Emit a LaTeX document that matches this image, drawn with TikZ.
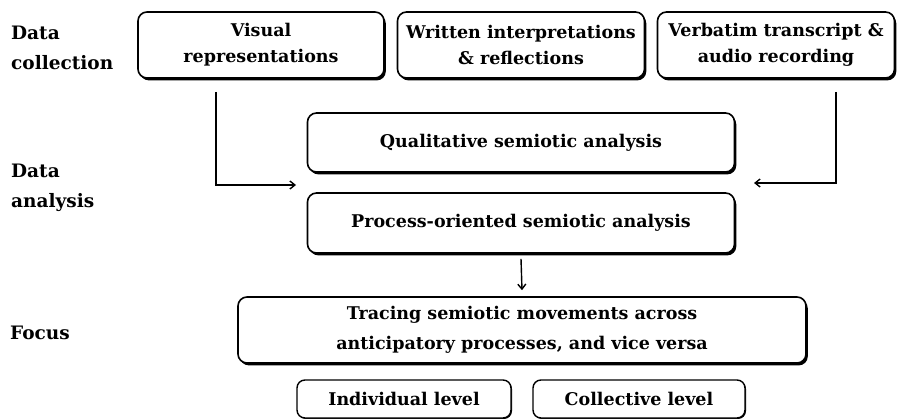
\documentclass[tikz,border=0pt]{standalone}
\usepackage{fontspec}
\setmainfont{DejaVu Serif}
\usetikzlibrary{arrows.meta,shadows}
\begin{document}
\begin{tikzpicture}[x=1pt,y=-1pt,
  every node/.style={font=\bfseries\fontsize{17.5}{26}\selectfont, align=center, inner sep=0pt},
  bigbox/.style={draw, line width=1.6pt, rounded corners=9pt, fill=white,
    drop shadow={shadow xshift=1.8pt, shadow yshift=-2.4pt, fill=black, opacity=1}},
  smallbox/.style={draw, line width=1.4pt, rounded corners=8pt, fill=white,
    drop shadow={shadow xshift=1pt, shadow yshift=-1pt, fill=black, opacity=1}},
  lbl/.style={anchor=west, align=left, font=\bfseries\fontsize{18.5}{30}\selectfont},
  conn/.style={line width=1.4pt, -{Straight Barb[length=5pt,width=8pt,line width=1.4pt]}}
]
\useasboundingbox (0,0) rectangle (899,419);
\fill[white] (0,0) rectangle (899,419);

% labels
\node[lbl] (lcol) at (11,48) {Data\\collection};
\node[lbl] (lana) at (11,188) {Data\\analysis};
\node[lbl] (lfoc) at (10,333) {Focus};

% top row
\node[bigbox, minimum width=246, minimum height=66] (vis) at (261,45) {Visual\\representations};
\node[bigbox, minimum width=247, minimum height=66] (wri) at (521,45) {Written interpretations\\\& reflections};
\node[bigbox, minimum width=237, minimum height=66] (ver) at (776,45) {Verbatim transcript \&\\audio recording};

% analysis
\node[bigbox, minimum width=427, minimum height=59] (qual) at (521,142.5) {Qualitative semiotic analysis};
\node[bigbox, minimum width=427, minimum height=60] (proc) at (521,223) {Process-oriented semiotic analysis};

% focus
\node[bigbox, minimum width=568, minimum height=66, font=\bfseries\fontsize{17.5}{30}\selectfont] (foc) at (522,330) {Tracing semiotic movements across\\anticipatory processes, and vice versa};

\node[smallbox, minimum width=214, minimum height=38] (ind) at (404,399) {Individual level};
\node[smallbox, minimum width=212, minimum height=38] (col) at (639,399) {Collective level};

% connectors
\coordinate (a1) at (216,92);
\coordinate (a1e) at (296,185);
\coordinate (a2) at (836,92);
\coordinate (a2e) at (754,183);
\draw[conn] (a1) |- (a1e);
\draw[conn] (a2) |- (a2e);
\draw[conn] ([yshift=-5pt]proc.south) -- ([yshift=6pt]foc.north);
\end{tikzpicture}
\end{document}
